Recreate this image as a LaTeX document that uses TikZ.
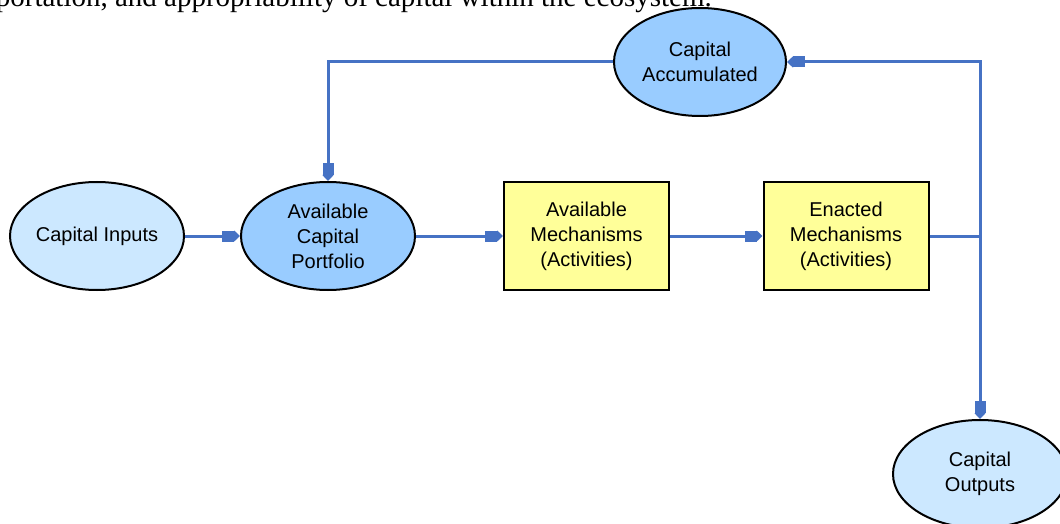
\documentclass[tikz,border=0pt]{standalone}
\usepackage{fontspec}
\setmainfont{Liberation Sans}
\newfontfamily\bodyserif{Liberation Serif}
\usepackage{tikz}
\usetikzlibrary{positioning, arrows.meta, shapes.geometric}

\definecolor{flowblue}{RGB}{70,114,196}
\definecolor{paleblue}{RGB}{204,232,255}
\definecolor{midblue}{RGB}{153,204,255}
\definecolor{paleyellow}{RGB}{255,255,153}

\tikzset{
  capital/.style={draw, ellipse, line width=2pt, minimum width=174pt, minimum height=108pt,
    inner sep=0pt, align=center, font=\fontsize{20}{25}\selectfont},
  mechbox/.style={draw, rectangle, line width=2pt, minimum width=165pt, minimum height=108pt,
    inner sep=0pt, align=center, fill=paleyellow, font=\fontsize{20}{25}\selectfont},
  flow/.style={flowblue, line width=3pt,
    -{Rectangle[length=12pt,width=11pt]Triangle[length=6pt,width=11pt]}},
  link/.style={flowblue, line width=3pt}
}

\begin{document}
\begin{tikzpicture}[x=1pt, y=1pt, node distance=231pt]
        \useasboundingbox (0,0) rectangle (1060,523);
        \clip (0,0) rectangle (1060,523);
        % Text above the figure
        \node (caption) [anchor=base east, inner sep=0pt, font=\bodyserif\fontsize{29}{34}\selectfont]
          at (712,516) {portation, and appropriability of capital within the ecosystem.};

        % Nodes
        \node (inputs) [capital, fill=paleblue] at (97,287) {Capital Inputs};
        \node (portfolio) [capital, fill=midblue, right of=inputs] {Available\\Capital\\Portfolio};
        \node (availmech) [mechbox, right of=portfolio, node distance=258.5pt] {Available\\Mechanisms\\(Activities)};
        \node (enacted) [mechbox, right of=availmech, node distance=259.5pt] {Enacted\\Mechanisms\\(Activities)};
        \node (accum) [capital, fill=midblue, minimum width=172pt] at (700,461) {Capital\\Accumulated};
        \node (outputs) [capital, fill=paleblue] at (980,49) {Capital\\Outputs};
        \coordinate (split) at (980,287);

        % Arrows
        \draw[flow] (inputs) -- (portfolio);
        \draw[flow] (portfolio) -- (availmech);
        \draw[flow] (availmech) -- (enacted);
        \draw[link] (enacted) -- (split);
        \draw[flow] (split) |- (accum);
        \draw[flow] (split) -- (outputs);
        \draw[flow] (accum.west) -| (portfolio.north);
    \end{tikzpicture}
\end{document}
